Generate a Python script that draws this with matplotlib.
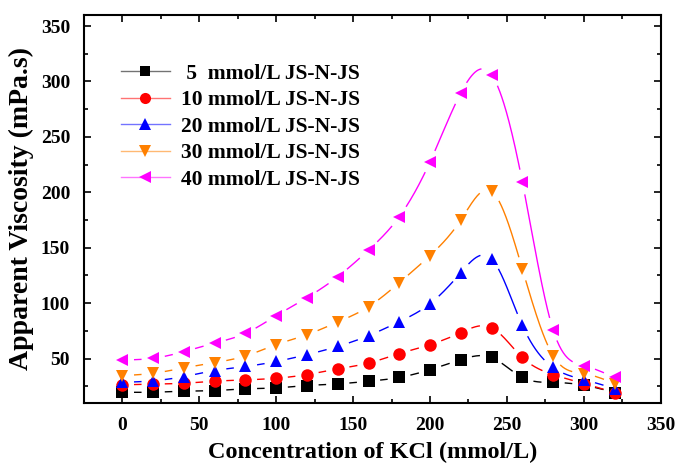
import numpy as np
import matplotlib
matplotlib.use('Agg')
import matplotlib.pyplot as plt
from matplotlib.ticker import MultipleLocator
from matplotlib.lines import Line2D

# KCl concentration (mmol/L)
kcl = [0, 20, 40, 60, 80, 100, 120, 140, 160, 180, 200, 220, 240, 260, 280, 300, 320]

# apparent viscosity (mPa.s) for each JS-N-JS concentration
v5 = [19.7, 19.7, 20.6, 21.2, 22.7, 23.6, 25.7, 27.2, 29.6, 33, 40, 49, 51, 33, 28.5, 26, 19.4]
v10 = [26.3, 27, 27.8, 29.6, 30.8, 32.3, 35.6, 40.7, 46, 54.5, 62.6, 73.4, 77.9, 51, 35.6, 27.5, 19.4]
v20 = [28.6, 30, 33.8, 39.2, 42.9, 47.4, 53.6, 61, 70.7, 83.3, 99.5, 127.5, 140, 80, 42, 31, 23]
v30 = [34.7, 36.8, 41.6, 46.4, 52.4, 62.6, 71.6, 83, 96.8, 118.5, 143, 175, 201, 131, 52.7, 36.5, 27.5]
v40 = [48.8, 50.3, 56.3, 64, 72.8, 88.7, 105, 123.9, 147.9, 178, 227.5, 289.6, 306, 209.5, 76, 43.7, 33]

labels = [' 5  mmol/L JS-N-JS', '10 mmol/L JS-N-JS', '20 mmol/L JS-N-JS',
          '30 mmol/L JS-N-JS', '40 mmol/L JS-N-JS']
series = [v5, v10, v20, v30, v40]
colors = ['#000000', '#FF0000', '#0000FF', '#FF8000', '#FF00FF']
markers = ['s', 'o', '^', 'v', '<']
msizes = [8, 9, 9, 9, 9]


def spline(x, y, n=60):
    # natural cubic spline through the points (line style like Origin "spline")
    x = np.asarray(x, float)
    y = np.asarray(y, float)
    m = len(x)
    h = np.diff(x)
    A = np.zeros((m, m))
    b = np.zeros(m)
    A[0, 0] = A[-1, -1] = 1
    for i in range(1, m - 1):
        A[i, i - 1] = h[i - 1]
        A[i, i] = 2 * (h[i - 1] + h[i])
        A[i, i + 1] = h[i]
        b[i] = 6 * ((y[i + 1] - y[i]) / h[i] - (y[i] - y[i - 1]) / h[i - 1])
    M = np.linalg.solve(A, b)
    xs, ys = [], []
    for i in range(m - 1):
        t = np.linspace(x[i], x[i + 1], n, endpoint=False)
        a = x[i + 1] - t
        c = t - x[i]
        s = (M[i] * a ** 3 + M[i + 1] * c ** 3) / (6 * h[i]) \
            + (y[i] / h[i] - M[i] * h[i] / 6) * a + (y[i + 1] / h[i] - M[i + 1] * h[i] / 6) * c
        xs.append(t)
        ys.append(s)
    xs.append([x[-1]])
    ys.append([y[-1]])
    return np.concatenate(xs), np.concatenate(ys)


plt.rcParams['font.family'] = ['Liberation Serif', 'DejaVu Serif']
plt.rcParams['font.weight'] = 'bold'

fig = plt.figure(figsize=(6.77, 4.68), dpi=100)
ax = fig.add_axes([0.124, 0.139, 0.852, 0.829])
ax.set_xlim(-25, 350)
ax.set_ylim(10, 360)
fig.canvas.draw()

handles = []
for y, c, mk, ms in zip(series, colors, markers, msizes):
    xs, ys = spline(kcl, y)
    # leave small gaps around the markers
    pts = ax.transData.transform(np.column_stack([xs, ys]))
    mpts = ax.transData.transform(np.column_stack([kcl, y]))
    d = np.min(np.hypot(pts[:, None, 0] - mpts[None, :, 0],
                        pts[:, None, 1] - mpts[None, :, 1]), axis=1)
    ys = np.where(d < 12, np.nan, ys)
    ax.plot(xs, ys, color=c, lw=1.0)
    ax.plot(kcl, y, linestyle='none', marker=mk, color=c, markersize=ms, markeredgewidth=0)
    hl = Line2D([], [], color=c, lw=1.0, alpha=0.55)
    hm = Line2D([], [], linestyle='none', marker=mk, markersize=ms - 1, color=c, markeredgewidth=0)
    handles.append((hl, hm))

ax.legend(handles=handles, labels=labels, loc='upper left', bbox_to_anchor=(0.03, 0.925),
          frameon=False, handlelength=2.3, handletextpad=0.5, labelspacing=0.3,
          prop={'weight': 'bold', 'size': 15.5})

ax.xaxis.set_major_locator(MultipleLocator(50))
ax.xaxis.set_minor_locator(MultipleLocator(25))
ax.yaxis.set_major_locator(MultipleLocator(50))
ax.yaxis.set_minor_locator(MultipleLocator(25))
ax.tick_params(which='both', direction='in', top=True, right=True, width=1.2)
ax.tick_params(which='major', length=5, labelsize=14, pad=10)
ax.tick_params(which='minor', length=3)
for sp in ax.spines.values():
    sp.set_linewidth(1.5)
ax.set_xticks([0, 50, 100, 150, 200, 250, 300, 350])
ax.set_yticks([50, 100, 150, 200, 250, 300, 350])
for t in ax.get_xticklabels() + ax.get_yticklabels():
    t.set_fontweight('bold')

ax.set_xlabel('Concentration of KCl (mmol/L)', fontsize=17.5, fontweight='bold', labelpad=6)
ax.set_ylabel('Apparent Viscosity (mPa.s)', fontsize=20, fontweight='bold', labelpad=5)

fig.savefig('out.png', dpi=100)
